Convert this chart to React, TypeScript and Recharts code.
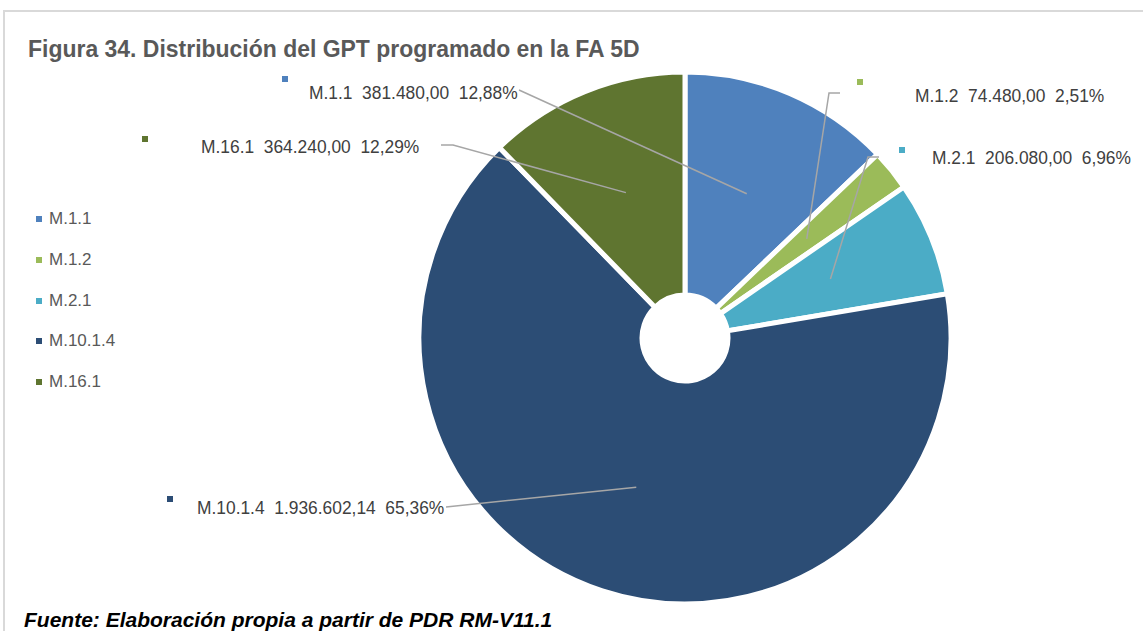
import React from 'react';
import { PieChart, Pie, Cell, Legend } from 'recharts';

// data
const categories = ['M.1.1', 'M.1.2', 'M.2.1', 'M.10.1.4', 'M.16.1'];
const amounts = [381480, 74480, 206080, 1936602.14, 364240];
const colors = ['#4F81BD', '#9BBB59', '#4BACC6', '#2C4D75', '#5F7530'];

const chartData = categories.map((name, i) => ({ name, value: amounts[i] }));

// manual label placement (like the Excel original), per slice index
// mx/my = marker square, tx/ty = text start (baseline), line = leader start points
const labelLayout = [
  { mx: 282, my: 76, tx: 309, ty: 99, line: [[519, 90]] },
  { mx: 857, my: 79, tx: 915, ty: 102, line: [[840, 93], [829, 93]] },
  { mx: 899, my: 147, tx: 932, ty: 164, line: [[879, 157], [868, 157]] },
  { mx: 167, my: 496, tx: 197, ty: 514, line: [[446, 507]] },
  { mx: 142, my: 136, tx: 201, ty: 153, line: [[441, 145], [453, 145]] },
];

const FONT = '"Liberation Sans", Arial, sans-serif';
const RADIAN = Math.PI / 180;

const fmtNumber = (v: number) => {
  const [int, dec] = v.toFixed(2).split('.');
  return int.replace(/\B(?=(\d{3})+(?!\d))/g, '.') + ',' + dec;
};

const renderLabel = (props: any) => {
  const { cx, cy, midAngle, outerRadius, index, percent, name, value } = props;
  const lay = labelLayout[index];
  const r = outerRadius * 0.59;
  const ex = cx + r * Math.cos(-midAngle * RADIAN);
  const ey = cy + r * Math.sin(-midAngle * RADIAN);
  const pts = [...lay.line, [ex, ey]].map((p) => p.join(',')).join(' ');
  const pct = (percent * 100).toFixed(2).replace('.', ',') + '%';
  return (
    <g key={`lbl-${index}`}>
      <polyline points={pts} fill="none" stroke="#A6A6A6" strokeWidth={1.5} />
      <rect x={lay.mx} y={lay.my} width={6} height={6} fill={colors[index]} />
      <text
        x={0}
        y={0}
        transform={`translate(${lay.tx},${lay.ty}) scale(0.94,1)`}
        fill="#404040"
        fontSize={18.5}
        fontFamily={FONT}
        style={{ whiteSpace: 'pre' }}
      >
        {`${name}  ${fmtNumber(value)}  ${pct}`}
      </text>
    </g>
  );
};

const renderLegend = (props: any) => {
  const items = [...(props.payload || [])].sort(
    (a: any, b: any) => categories.indexOf(a.value) - categories.indexOf(b.value)
  );
  return (
    <div style={{ fontFamily: FONT, fontSize: 17, color: '#595959' }}>
      {items.map((entry: any, i: number) => (
        <div key={i} style={{ display: 'flex', alignItems: 'center', height: 40.7 }}>
          <span style={{ display: 'inline-block', width: 6, height: 6, background: entry.color, marginRight: 7 }} />
          <span>{entry.value}</span>
        </div>
      ))}
    </div>
  );
};

export default function App() {
  return (
    <div style={{ position: 'absolute', left: 0, top: 0, width: 1143, height: 631, background: '#fff', overflow: 'hidden' }}>
      {/* chart frame */}
      <div style={{ position: 'absolute', left: 3, top: 10, width: 1160, height: 700, borderTop: '2px solid #D9D9D9', borderLeft: '2px solid #D9D9D9' }} />
      <div
        style={{
          position: 'absolute',
          left: 28,
          top: 36,
          fontFamily: FONT,
          fontSize: 23.5,
          fontWeight: 'bold',
          color: '#595959',
          whiteSpace: 'nowrap',
          transform: 'scaleX(0.977)',
          transformOrigin: 'left top',
        }}
      >
        Figura 34. Distribución del GPT programado en la FA 5D
      </div>
      <div style={{ position: 'absolute', left: 0, top: 0 }}>
        <PieChart width={1143} height={631} margin={{ top: 0, right: 0, bottom: 0, left: 0 }}>
          <Pie
            data={chartData}
            dataKey="value"
            nameKey="name"
            cx={685}
            cy={338}
            innerRadius={43}
            outerRadius={266}
            startAngle={90}
            endAngle={-270}
            stroke="#fff"
            strokeWidth={5}
            label={renderLabel}
            labelLine={false}
            isAnimationActive={false}
          >
            {chartData.map((d, i) => (
              <Cell key={d.name} fill={colors[i]} />
            ))}
          </Pie>
          <Legend
            content={renderLegend}
            layout="vertical"
            itemSorter={null as any}
            wrapperStyle={{ position: 'absolute', left: 36, top: 199, width: 120 }}
          />
        </PieChart>
      </div>
      <div style={{ position: 'absolute', left: 24, top: 608, fontFamily: FONT, fontSize: 21, fontWeight: 'bold', fontStyle: 'italic', color: '#000', whiteSpace: 'nowrap' }}>
        Fuente: Elaboración propia a partir de PDR RM-V11.1
      </div>
    </div>
  );
}
